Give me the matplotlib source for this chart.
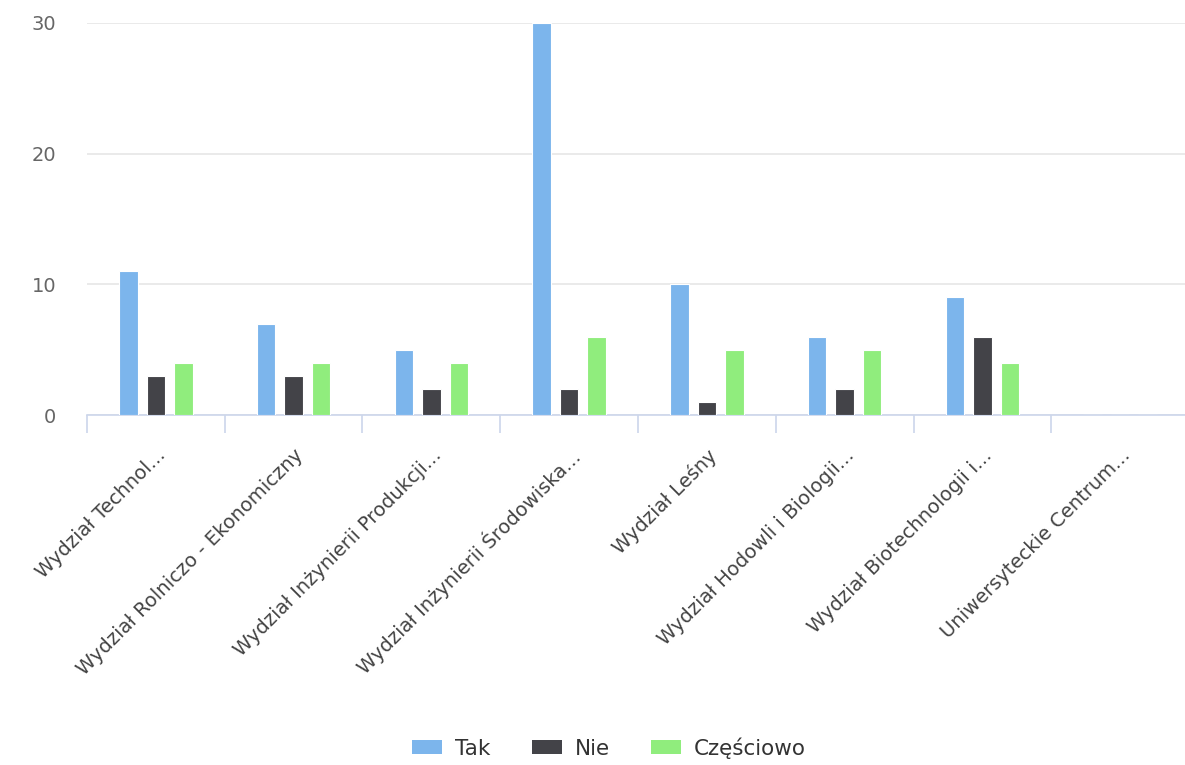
import numpy as np
import matplotlib
matplotlib.use("Agg")
import matplotlib.pyplot as plt
from matplotlib.patches import Patch

plt.rcParams['font.family'] = ['DejaVu Sans']

categories = [
    "Wydział Technol...",
    "Wydział Rolniczo - Ekonomiczny",
    "Wydział Inżynierii Produkcji...",
    "Wydział Inżynierii Środowiska...",
    "Wydział Leśny",
    "Wydział Hodowli i Biologii...",
    "Wydział Biotechnologii i...",
    "Uniwersyteckie Centrum...",
]
tak = [11, 7, 5, 30, 10, 6, 9, 0]
nie = [3, 3, 2, 2, 1, 2, 6, 0]
czesciowo = [4, 4, 4, 6, 5, 5, 4, 0]

series_names = ["Tak", "Nie", "Częściowo"]
colors = ["#7cb5ec", "#434348", "#90ed7d"]

fig = plt.figure(figsize=(11.85, 7.65), dpi=100)
ax = fig.add_axes([0.0734, 0.4575, 0.93, 0.5125])

x = np.arange(len(categories))
width = 0.135
offset = 0.2
for i, (vals, col) in enumerate(zip([tak, nie, czesciowo], colors)):
    ax.bar(x + (i - 1) * offset, vals, width, color=col, edgecolor="white",
           linewidth=0.8, zorder=3)

ax.set_xlim(-0.5, len(categories) - 0.5)
ax.set_ylim(0, 30)
ax.set_yticks([0, 10, 20, 30])
ax.yaxis.grid(True, color="#e6e6e6", linewidth=1.2, zorder=0)
ax.tick_params(axis="y", length=0, pad=22, labelsize=14, labelcolor="#666666")

# category boundaries as tick marks, labels at the centres
ax.set_xticks(np.arange(len(categories)) - 0.5, minor=False)
ax.set_xticklabels([])
ax.tick_params(axis="x", which="major", length=13, color="#ccd6eb", width=1.2)
ax.set_xticks(x, minor=True)
ax.set_xticklabels(categories, minor=True, rotation=45, ha="right", va="top",
                   rotation_mode="anchor", fontsize=14, color="#444444")
ax.tick_params(axis="x", which="minor", length=0, pad=22)

for s in ["top", "right", "left"]:
    ax.spines[s].set_visible(False)
ax.spines["bottom"].set_color("#ccd6eb")
ax.spines["bottom"].set_linewidth(1.2)

handles = [Patch(facecolor=c, edgecolor="none") for c in colors]
fig.legend(handles, series_names, loc="center", bbox_to_anchor=(0.514, 0.022),
           ncol=3, frameon=False, fontsize=15.5, handlelength=1.4, handleheight=0.6,
           columnspacing=1.9, handletextpad=0.6, labelcolor="#333333")

fig.savefig("out.png", dpi=100)
